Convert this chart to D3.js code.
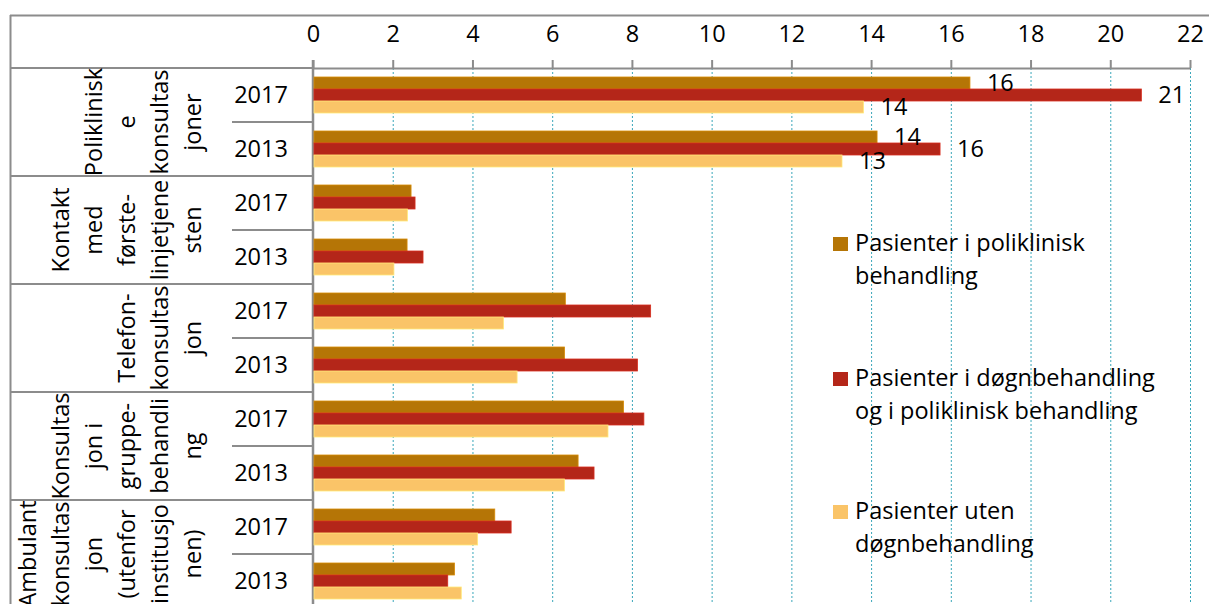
<!DOCTYPE html>
<html>
<head>
<meta charset="utf-8">
<script src="https://cdn.jsdelivr.net/npm/d3@7"></script>
<style>
  html, body { margin: 0; padding: 0; background: #fff; }
  svg { display: block; font-family: "Open Sans", sans-serif; }
</style>
</head>
<body>
<svg id="chart" width="1209" height="604"></svg>
<script>
// Category labels, wrapped the way they appear in the table column
const categoryLines = [
  ["Poliklinisk", "e", "konsultas", "joner"],
  ["Kontakt", "med", "første-", "linjetjene", "sten"],
  ["Telefon-", "konsultas", "jon"],
  ["Konsultas", "jon i", "gruppe-", "behandli", "ng"],
  ["Ambulant", "konsultas", "jon", "(utenfor", "institusjo", "nen)"]
];
const years = ["2017", "2013"];
const seriesNames = [
  ["Pasienter i poliklinisk", "behandling"],
  ["Pasienter i døgnbehandling", "og i poliklinisk behandling"],
  ["Pasienter uten", "døgnbehandling"]
];
const seriesColors = ["#b57506", "#b42619", "#fac468"];

// Values per series, ordered category by category, 2017 then 2013
const poliklinisk = [16.48, 14.15, 2.46, 2.36, 6.33, 6.31, 7.79, 6.65, 4.56, 3.55];
const dognOgPoli  = [20.78, 15.73, 2.56, 2.76, 8.47, 8.14, 8.30, 7.05, 4.97, 3.38];
const utenDogn    = [13.81, 13.27, 2.37, 2.03, 4.78, 5.12, 7.40, 6.31, 4.13, 3.72];
const labelledCategories = [0];   // only the first category carries value labels

const xTicks = [0, 2, 4, 6, 8, 10, 12, 14, 16, 18, 20, 22];

const seriesValues = [poliklinisk, dognOgPoli, utenDogn];

const svg = d3.select("#chart");
const font = 23.5;
const fontFamily = "'Open Sans', sans-serif";
const gridColor = "#3aa7ba";
const frameColor = "#8c8c8c";

const x = d3.scaleLinear().domain([0, 22]).range([313, 1190]);

const rowKeys = [];
categoryLines.forEach((c, ci) => years.forEach((y, yi) => rowKeys.push(ci + "-" + y)));
const rowY = d3.scaleBand().domain(rowKeys).range([68, 608]).padding(0);
const seriesY = d3.scaleBand().domain(d3.range(3)).range([0, rowY.bandwidth()]).paddingInner(0).paddingOuter(0.75);

// gridlines
svg.append("g").selectAll("line")
  .data(xTicks.filter(d => d > 0))
  .join("line")
  .attr("x1", d => x(d) + 0.5).attr("x2", d => x(d) + 0.5)
  .attr("y1", 68).attr("y2", 604)
  .attr("stroke", gridColor).attr("stroke-width", 1)
  .attr("stroke-dasharray", "2,2");

// outer frame
svg.append("line").attr("x1", 10).attr("x2", 1209).attr("y1", 15.5).attr("y2", 15.5)
  .attr("stroke", frameColor).attr("stroke-width", 2);
svg.append("line").attr("x1", 10.5).attr("x2", 10.5).attr("y1", 15).attr("y2", 604)
  .attr("stroke", frameColor).attr("stroke-width", 2);
svg.append("line").attr("x1", 10).attr("x2", 313).attr("y1", 68).attr("y2", 68)
  .attr("stroke", frameColor).attr("stroke-width", 2);

// top axis
const axis = svg.append("g").attr("transform", "translate(0,68)")
  .call(d3.axisTop(x).tickValues(xTicks).tickSize(8).tickSizeOuter(0).tickPadding(18));
axis.select(".domain").attr("stroke", frameColor).attr("stroke-width", 2);
axis.selectAll(".tick line").attr("stroke", frameColor).attr("stroke-width", 2);
axis.selectAll(".tick text").attr("font-size", font).attr("font-family", fontFamily).attr("fill", "#000");

// row separators
rowKeys.forEach((k, i) => {
  if (i === 0) return;
  const yy = rowY(k);
  const isGroup = i % 2 === 0;
  svg.append("line").attr("x1", isGroup ? 10 : 232).attr("x2", 313)
    .attr("y1", yy).attr("y2", yy)
    .attr("stroke", frameColor).attr("stroke-width", 2);
});

// vertical category axis
svg.append("line").attr("x1", 313).attr("x2", 313).attr("y1", 60).attr("y2", 604)
  .attr("stroke", frameColor).attr("stroke-width", 2.5);

// bars
const bars = svg.append("g");
seriesValues.forEach((vals, si) => {
  bars.append("g").selectAll("rect")
    .data(vals.map((v, i) => ({ v, i })))
    .join("rect")
    .attr("x", x(0) + 1)
    .attr("y", d => rowY(rowKeys[d.i]) + seriesY(si))
    .attr("width", d => x(d.v) - x(0) - 1)
    .attr("height", seriesY.bandwidth())
    .attr("fill", seriesColors[si])
    .attr("stroke", d3.color(seriesColors[si]).brighter(0.5))
    .attr("stroke-width", 0.8);
});

// value labels
const fmt = d3.format(".0f");
seriesValues.forEach((vals, si) => {
  svg.append("g").selectAll("text")
    .data(vals.map((v, i) => ({ v, i })).filter(d => labelledCategories.includes(Math.floor(d.i / 2))))
    .join("text")
    .attr("x", d => x(d.v) + 17)
    .attr("y", d => rowY(rowKeys[d.i]) + seriesY(si) + seriesY.bandwidth() / 2)
    .attr("dy", "0.35em")
    .attr("font-size", font)
    .attr("fill", "#000")
    .text(d => fmt(d.v));
});

// year labels
svg.append("g").selectAll("text")
  .data(rowKeys)
  .join("text")
  .attr("x", 261)
  .attr("y", k => rowY(k) + rowY.bandwidth() / 2)
  .attr("dy", "0.35em")
  .attr("text-anchor", "middle")
  .attr("font-size", font)
  .text(k => k.split("-")[1]);

// rotated category labels
const lineStep = 33;
categoryLines.forEach((lines, ci) => {
  const top = rowY(ci + "-" + years[0]);
  const cy = top + rowY.bandwidth();
  const n = lines.length;
  lines.forEach((ln, li) => {
    const cx = 193 - (n - 1 - li) * lineStep;
    svg.append("text")
      .attr("transform", `translate(${cx},${cy}) rotate(-90)`)
      .attr("text-anchor", "middle")
      .attr("dy", "0.35em")
      .attr("font-size", font)
      .text(ln);
  });
});

// legend
const legendTops = [237, 372, 505];
const legend = svg.append("g");
seriesNames.forEach((lines, si) => {
  const t = legendTops[si];
  legend.append("rect").attr("x", 833).attr("y", t).attr("width", 15).attr("height", 14)
    .attr("fill", seriesColors[si]);
  lines.forEach((ln, li) => {
    legend.append("text")
      .attr("x", 855)
      .attr("y", t + 14 + li * 33)
      .attr("font-size", font)
      .text(ln);
  });
});
</script>
</body>
</html>
